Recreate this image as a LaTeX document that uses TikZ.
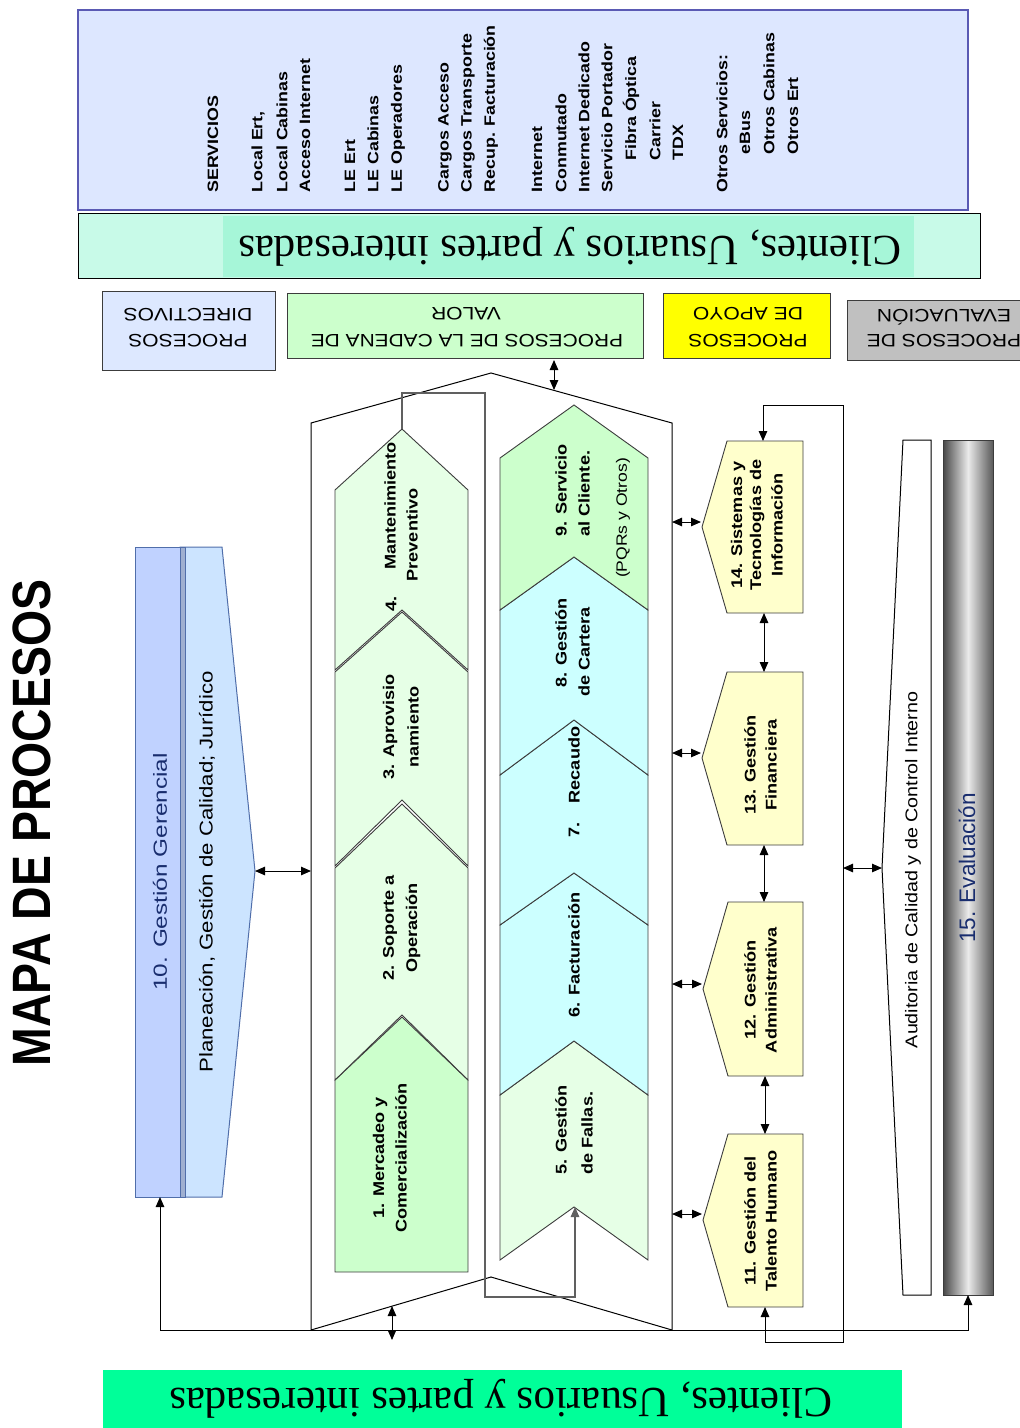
\documentclass[tikz,border=0pt]{standalone}
\usepackage{fontspec}
\usepackage{graphicx}
\setmainfont{Liberation Sans}
\newfontfamily\serifcl{Liberation Serif}
\usetikzlibrary{arrows.meta}
\newcommand\fs[1]{\fontsize{#1}{#1}\selectfont}
\newcommand\sx[2]{\scalebox{#1}[1]{#2}}
\definecolor{svcfill}{RGB}{221,231,255}
\definecolor{svcborder}{RGB}{90,90,180}
\definecolor{clout}{RGB}{200,250,232}
\definecolor{clin}{RGB}{166,246,216}
\definecolor{clbot}{RGB}{0,255,153}
\definecolor{dirfill}{RGB}{221,232,255}
\definecolor{valfill}{RGB}{204,255,204}
\definecolor{apoyofill}{RGB}{255,255,0}
\definecolor{evalfill}{RGB}{192,192,192}
\definecolor{chA}{RGB}{204,255,204}
\definecolor{chB}{RGB}{230,255,230}
\definecolor{chC}{RGB}{204,255,255}
\definecolor{supfill}{RGB}{255,255,204}
\definecolor{gerA}{RGB}{192,210,255}
\definecolor{gerB}{RGB}{204,228,255}
\definecolor{gerline}{RGB}{80,110,170}
\definecolor{navyc}{RGB}{25,45,110}
\definecolor{edgec}{RGB}{60,60,60}
\begin{document}
\begin{tikzpicture}[x=1pt,y=-1pt,line width=1pt,
  >={Triangle[length=10pt,width=8.5pt]},
  svcs/.style={rotate=90,anchor=west,inner sep=0pt,font=\fs{15}\bfseries},
  chv/.style={rotate=90,inner sep=0pt,font=\fs{15.5}\bfseries},
  chvw/.style={chv,anchor=west},
  thin/.style={rotate=90,inner sep=0pt},
  lab/.style={rotate=180,inner sep=0pt,font=\fs{18}},
  clt/.style={rotate=180,inner sep=0pt,font=\serifcl\fs{43}},
  shp/.style={draw=edgec,line width=0.9pt},
  lbox/.style={draw=edgec,line width=1pt},
  conn/.style={line width=1pt,draw=black},
]
\useasboundingbox (0,0) rectangle (1020,1428);

% ---------- services box ----------
\draw[fill=svcfill,draw=svcborder,line width=1.6pt] (78,10) rectangle (968,210);
\node[svcs] (sv1) at (213,193) {\sx{1.19}{SERVICIOS}};
\node[svcs] (sv2) at (258,193) {\sx{1.19}{Local Ert,}};
\node[svcs] (sv3) at (282,193) {\sx{1.19}{Local Cabinas}};
\node[svcs] (sv4) at (305,193) {\sx{1.19}{Acceso Internet}};
\node[svcs] (sv5) at (350,193) {\sx{1.19}{LE Ert}};
\node[svcs] (sv6) at (373,193) {\sx{1.19}{LE Cabinas}};
\node[svcs] (sv7) at (398,193) {\sx{1.19}{LE Operadores}};
\node[svcs] (sv8) at (445,193) {\sx{1.19}{Cargos Acceso}};
\node[svcs] (sv9) at (468,193) {\sx{1.19}{Cargos Transporte}};
\node[svcs] (sv10) at (491,193) {\sx{1.19}{Recup. Facturación}};
\node[svcs] (sv11) at (537,193) {\sx{1.19}{Internet}};
\node[svcs] (sv12) at (561,193) {\sx{1.19}{Conmutado}};
\node[svcs] (sv13) at (584,193) {\sx{1.19}{Internet Dedicado}};
\node[svcs] (sv14) at (607,193) {\sx{1.19}{Servicio Portador}};
\node[svcs] (sv15) at (631,161) {\sx{1.19}{Fibra Óptica}};
\node[svcs] (sv16) at (655,161) {\sx{1.19}{Carrier}};
\node[svcs] (sv17) at (678,161) {\sx{1.19}{TDX}};
\node[svcs] (sv18) at (722,193) {\sx{1.19}{Otros Servicios:}};
\node[svcs] (sv19) at (745,155) {\sx{1.19}{eBus}};
\node[svcs] (sv20) at (769,155) {\sx{1.19}{Otros Cabinas}};
\node[svcs] (sv21) at (793,155) {\sx{1.19}{Otros Ert}};

% ---------- clientes top band ----------
\draw[fill=clout,draw=black] (78,213) rectangle (980,278);
\fill[clin] (223,216) rectangle (914,277);
\draw[draw=black] (78,213) rectangle (980,278);
\node[clt] (cltop) at (570,247) {Clientes, Usuarios y partes interesadas};

% ---------- label boxes ----------
\draw[lbox,fill=dirfill] (102,291) rectangle (275,370);
\node[lab] (ld1) at (188,341) {\sx{1.17}{PROCESOS}};
\node[lab] (ld2) at (188,315) {\sx{1.17}{DIRECTIVOS}};
\draw[lbox,fill=valfill] (287,293) rectangle (643,358);
\node[lab] (lv1) at (467,341) {\sx{1.16}{PROCESOS DE LA CADENA DE}};
\node[lab] (lv2) at (466,314) {\sx{1.17}{VALOR}};
\draw[lbox,fill=apoyofill] (663,293) rectangle (830,358);
\node[lab] (la1) at (748,341) {\sx{1.17}{PROCESOS}};
\node[lab] (la2) at (748,314) {\sx{1.17}{DE APOYO}};
\draw[lbox,fill=evalfill] (847,300) rectangle (1030,360);
\node[lab] (le1) at (944,341) {\sx{1.17}{PROCESOS DE}};
\node[lab] (le2) at (944,317) {\sx{1.17}{EVALUACIÓN}};

% ---------- title ----------
\node[rotate=90,inner sep=0pt,font=\fs{54}\bfseries] (title) at (32,823) {\sx{0.86}{MAPA DE PROCESOS}};

% ---------- gestion gerencial ----------
\draw[fill=gerB,draw=gerline] (180,547) -- (222,547) -- (255,871) -- (222,1197) -- (180,1197) -- cycle;
\draw[fill=gerA,draw=gerline] (135,547) rectangle (185,1197);
\draw[fill=gerline!55,draw=gerline] (180,547) rectangle (185,1197);
\coordinate (gtip) at (255,871);
\node[thin,font=\fs{19},text=navyc] (g10) at (160,872) {\sx{1.28}{10. Gestión Gerencial}};
\node[thin,font=\fs{18.5}] (plan) at (207,872) {\sx{1.2}{Planeación, Gestión de Calidad; Jurídico}};

% ---------- value chain outline ----------
\draw[black] (311,423) -- (491,373) -- (672,423) -- (672,1330) -- (491,1277) -- (311,1330) -- cycle;
\coordinate (oleft) at (311,871);

% left column chevrons
\draw[shp,fill=chA] (335,1080) -- (402,1017) -- (468,1080) -- (468,1272) -- (335,1272) -- cycle;
\draw[shp,fill=chB] (335,868) -- (402,804) -- (468,868) -- (468,1080) -- (402,1015) -- (335,1080) -- cycle;
\draw[shp,fill=chB] (335,672) -- (402,612) -- (468,672) -- (468,866) -- (402,800) -- (335,866) -- cycle;
\draw[shp,fill=chB] (335,490) -- (402,429) -- (468,490) -- (468,670) -- (402,610) -- (335,670) -- cycle;
% right column chevrons
\draw[shp,fill=chB] (500,1095) -- (574,1041) -- (648,1095) -- (648,1260) -- (574,1207) -- (500,1260) -- cycle;
\draw[shp,fill=chC] (500,925) -- (574,873) -- (648,925) -- (648,1095) -- (574,1041) -- (500,1095) -- cycle;
\draw[shp,fill=chC] (500,775) -- (574,720) -- (648,775) -- (648,925) -- (574,873) -- (500,925) -- cycle;
\draw[shp,fill=chC] (500,610) -- (574,557) -- (648,610) -- (648,775) -- (574,720) -- (500,775) -- cycle;
\draw[shp,fill=chA] (500,458) -- (574,405) -- (648,458) -- (648,610) -- (574,557) -- (500,610) -- cycle;

\coordinate (c4apex) at (402,429);
\coordinate (c5notch) at (575,1207);

% chevron texts
\node[chv] (t4a) at (391,604) {\sx{1.17}{4.}};
\node[chv] (t4b) at (390,506) {\sx{1.17}{Mantenimiento}};
\node[chv] (t4c) at (412,535) {\sx{1.17}{Preventivo}};
\node[chv] (t3a) at (390,727) {\sx{1.17}{3. Aprovisio}};
\node[chv] (t3b) at (413,727) {\sx{1.17}{namiento}};
\node[chv] (t2a) at (390,928) {\sx{1.17}{2. Soporte a}};
\node[chv] (t2b) at (413,928) {\sx{1.17}{Operación}};
\node[chv] (t1a) at (380,1158) {\sx{1.17}{1. Mercadeo y}};
\node[chv] (t1b) at (401,1158) {\sx{1.17}{Comercialización}};
\node[chvw] (t9a) at (561,537) {\sx{1.17}{9. Servicio}};
\node[chvw] (t9b) at (584,537) {\sx{1.17}{al Cliente.}};
\node[thin,font=\fs{15}] (t9c) at (623,518) {\sx{1.17}{(PQRs y Otros)}};
\node[chv] (t8a) at (561,643) {\sx{1.17}{8. Gestión}};
\node[chv] (t8b) at (584,652) {\sx{1.17}{de Cartera}};
\node[chv] (t7a) at (574,830) {\sx{1.17}{7.}};
\node[chv] (t7b) at (574,765) {\sx{1.17}{Recaudo}};
\node[chv] (t6) at (574,955) {\sx{1.17}{6. Facturación}};
\node[chvw] (t5a) at (561,1175) {\sx{1.17}{5. Gestión}};
\node[chvw] (t5b) at (587,1175) {\sx{1.17}{de Fallas.}};

% gray internal flow line
\draw[gray!75!black,line width=1.4pt,->] (c4apex) -- (402,393) -- (485,393) -- (485,1297) -- (575,1297) -- (c5notch);

% ---------- support processes ----------
\draw[shp,fill=supfill] (727,441) -- (803,441) -- (803,613) -- (727,613) -- (702,527) -- cycle;
\draw[shp,fill=supfill] (727,672) -- (803,672) -- (803,845) -- (727,845) -- (702,758) -- cycle;
\draw[shp,fill=supfill] (728,902) -- (803,902) -- (803,1076) -- (728,1076) -- (703,989) -- cycle;
\draw[shp,fill=supfill] (728,1134) -- (803,1134) -- (803,1307) -- (728,1307) -- (703,1220) -- cycle;
\node[chv] (s14a) at (738,525) {\sx{1.17}{14. Sistemas y}};
\node[chv] (s14b) at (757,525) {\sx{1.17}{Tecnologías de}};
\node[chv] (s14c) at (777,525) {\sx{1.17}{Información}};
\node[chv] (s13a) at (750,765) {\sx{1.17}{13. Gestión}};
\node[chv] (s13b) at (771,765) {\sx{1.17}{Financiera}};
\node[chv] (s12a) at (750,990) {\sx{1.17}{12. Gestión}};
\node[chv] (s12b) at (771,990) {\sx{1.17}{Administrativa}};
\node[chv] (s11a) at (750,1221) {\sx{1.17}{11. Gestión del}};
\node[chv] (s11b) at (771,1221) {\sx{1.17}{Talento Humano}};

% ---------- evaluation ----------
\draw[black,fill=white] (903,440) -- (931,440) -- (931,1295) -- (903,1295) -- (882,868) -- cycle;
\node[thin,font=\fs{17}] (aud) at (913,870) {\sx{1.16}{Auditoria de Calidad y de Control Interno}};
\shade[left color=black!72,right color=black!65,middle color=black!8] (943,440) rectangle (993,1295);
\draw[edgec] (943,440) rectangle (993,1295);
\node[thin,font=\fs{22.5},text=navyc] (ev15) at (967,868) {15. Evaluación};

% ---------- connectors ----------
\coordinate (vtop) at (554,390);
\coordinate (vlab) at (554,360);
\draw[conn,<->] (vlab) -- (vtop);
\coordinate (vbot) at (392,1306);
\coordinate (vbot2) at (392,1340);
\draw[conn,<->] (vbot) -- (vbot2);
\draw[conn,<->] (gtip) -- (oleft);
\draw[conn,<->] (672,522) -- (701,522);
\draw[conn,<->] (672,753) -- (701,753);
\draw[conn,<->] (672,984) -- (702,984);
\draw[conn,<->] (672,1214) -- (702,1214);
\draw[conn,<->] (764,613) -- (764,672);
\draw[conn,<->] (764,845) -- (764,902);
\draw[conn,<->] (765,1076) -- (765,1134);
\draw[conn,<->] (765,1307) -- (765,1342) -- (843,1342) -- (843,405) -- (763,405) -- (763,441);
\draw[conn,<->] (843,868) -- (882,868);
\draw[conn,<->] (160,1197) -- (160,1330) -- (968,1330) -- (968,1295);

% ---------- clientes bottom band ----------
\fill[clbot] (103,1370) rectangle (902,1428);
\node[clt] (clbotn) at (501,1399) {Clientes, Usuarios y partes interesadas};
\end{tikzpicture}
\end{document}
